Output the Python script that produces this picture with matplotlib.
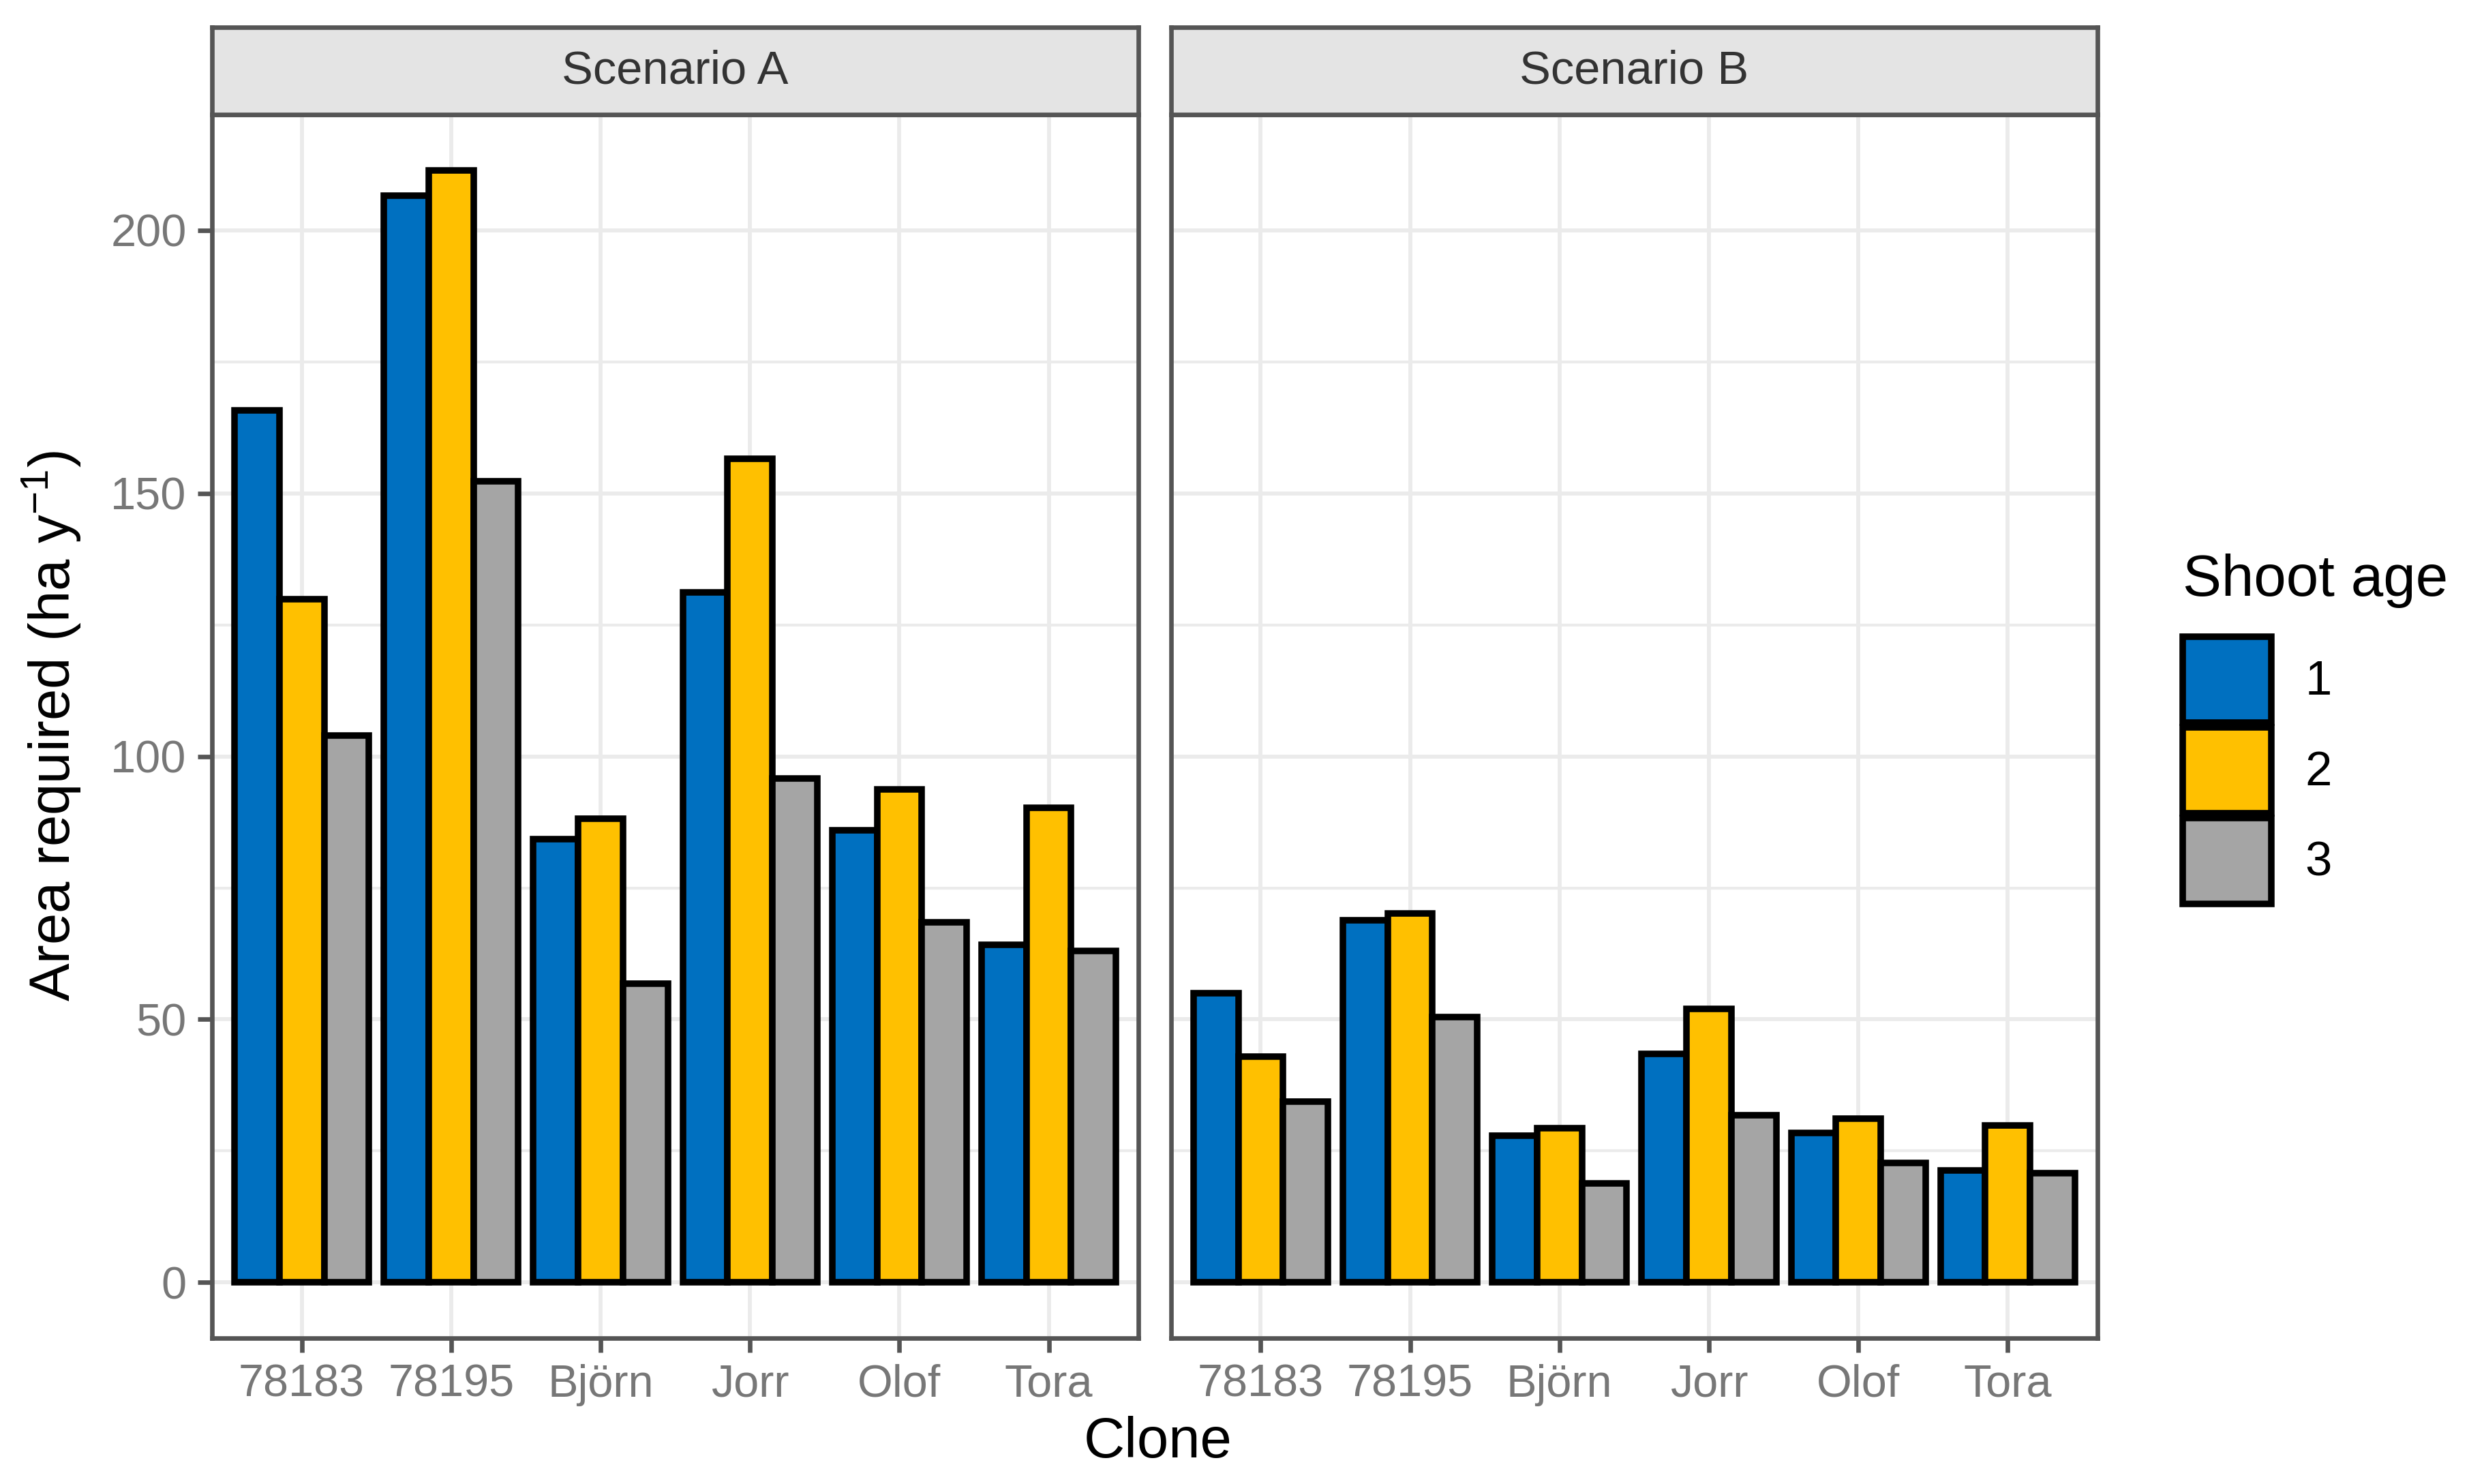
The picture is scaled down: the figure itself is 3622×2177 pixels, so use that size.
import matplotlib
matplotlib.use("Agg")
import matplotlib.pyplot as plt
import numpy as np
from matplotlib.patches import Patch

plt.rcParams['font.family'] = ['Liberation Sans', 'DejaVu Sans']
plt.rcParams['mathtext.fontset'] = 'custom'
plt.rcParams['mathtext.rm'] = 'Liberation Sans'
plt.rcParams['mathtext.it'] = 'Liberation Sans:italic'

clones = ['78183', '78195', 'Björn', 'Jorr', 'Olof', 'Tora']
ages = ['1', '2', '3']
scenarios = ['Scenario A', 'Scenario B']

# area required, rows = shoot age 1..3, cols = clones
scen_a = [
    [165.7, 206.6, 84.2, 131.2, 85.9, 64.2],
    [129.9, 211.4, 88.2, 156.5, 93.7, 90.2],
    [103.9, 152.3, 56.8, 95.8, 68.5, 63.0],
]
scen_b = [
    [55.0, 68.8, 27.9, 43.5, 28.4, 21.3],
    [43.0, 70.2, 29.3, 52.0, 31.1, 29.9],
    [34.4, 50.5, 18.8, 31.8, 22.7, 20.8],
]

colors = ['#0070C0', '#FFC000', '#A5A5A5']
border = '#555555'
grid_c = '#EBEBEB'
tick_c = '#777777'

W, H = 3622, 2177
fig = plt.figure(figsize=(W / 300, H / 300), dpi=300)

panel_bottom = 0.0983
panel_top = 0.9228
strip_top = 0.9816
lefts = [0.0859, 0.4743]
width = 0.3752

ymax = max(max(r) for r in scen_a) * 1.05
ymin = -max(max(r) for r in scen_a) * 0.05
x = np.arange(len(clones))
bw = 0.3

for k, (name, data) in enumerate(zip(scenarios, [scen_a, scen_b])):
    ax = fig.add_axes([lefts[k], panel_bottom, width, panel_top - panel_bottom])
    ax.set_xlim(-0.6, len(clones) - 0.4)
    ax.set_ylim(ymin, ymax)
    ax.set_yticks([0, 50, 100, 150, 200])
    ax.set_yticks([25, 75, 125, 175], minor=True)
    ax.set_xticks(x)
    ax.set_xticklabels(clones)
    ax.grid(True, which='major', color=grid_c, linewidth=1.4, zorder=0)
    ax.grid(True, which='minor', axis='y', color=grid_c, linewidth=1.0, zorder=0)
    ax.set_axisbelow(True)
    for i in range(3):
        ax.bar(x + (i - 1) * bw, data[i], width=bw, color=colors[i],
               edgecolor='black', linewidth=2.3, zorder=3)
    for s in ax.spines.values():
        s.set_color(border)
        s.set_linewidth(1.6)
        s.set_zorder(5)
    ax.tick_params(axis='both', which='major', length=5, width=1.6, color=border,
                   labelcolor=tick_c, labelsize=16, pad=4)
    ax.tick_params(axis='y', which='minor', length=0)
    if k == 1:
        ax.tick_params(axis='y', which='major', length=0, labelleft=False)

    sax = fig.add_axes([lefts[k], panel_top, width, strip_top - panel_top])
    sax.set_facecolor('#E4E4E4')
    sax.set_xticks([])
    sax.set_yticks([])
    for s in sax.spines.values():
        s.set_color(border)
        s.set_linewidth(1.6)
    sax.text(0.5, 0.5, name, ha='center', va='center', fontsize=16.5,
             color='#333333', transform=sax.transAxes)

fig.text(0.021, (panel_bottom + panel_top) / 2, 'Area required (ha y$^{-1}$)',
         rotation=90, ha='center', va='center', fontsize=20)
fig.text(0.469, 0.028, 'Clone', ha='center', va='center', fontsize=20)

handles = [Patch(facecolor=colors[i], edgecolor='black', linewidth=2.3) for i in range(3)]
leg = fig.legend(handles, ages, title='Shoot age', loc='upper left',
                 bbox_to_anchor=(0.884, 0.627), frameon=False, fontsize=17,
                 title_fontsize=20.5, handlelength=1.84, handleheight=2.36,
                 labelspacing=0.1, handletextpad=0.7, borderpad=0,
                 borderaxespad=0, alignment='left')
# more room between the legend title and the keys
leg._legend_box.sep = 10

fig.savefig('out.png', dpi=300, facecolor='white')
